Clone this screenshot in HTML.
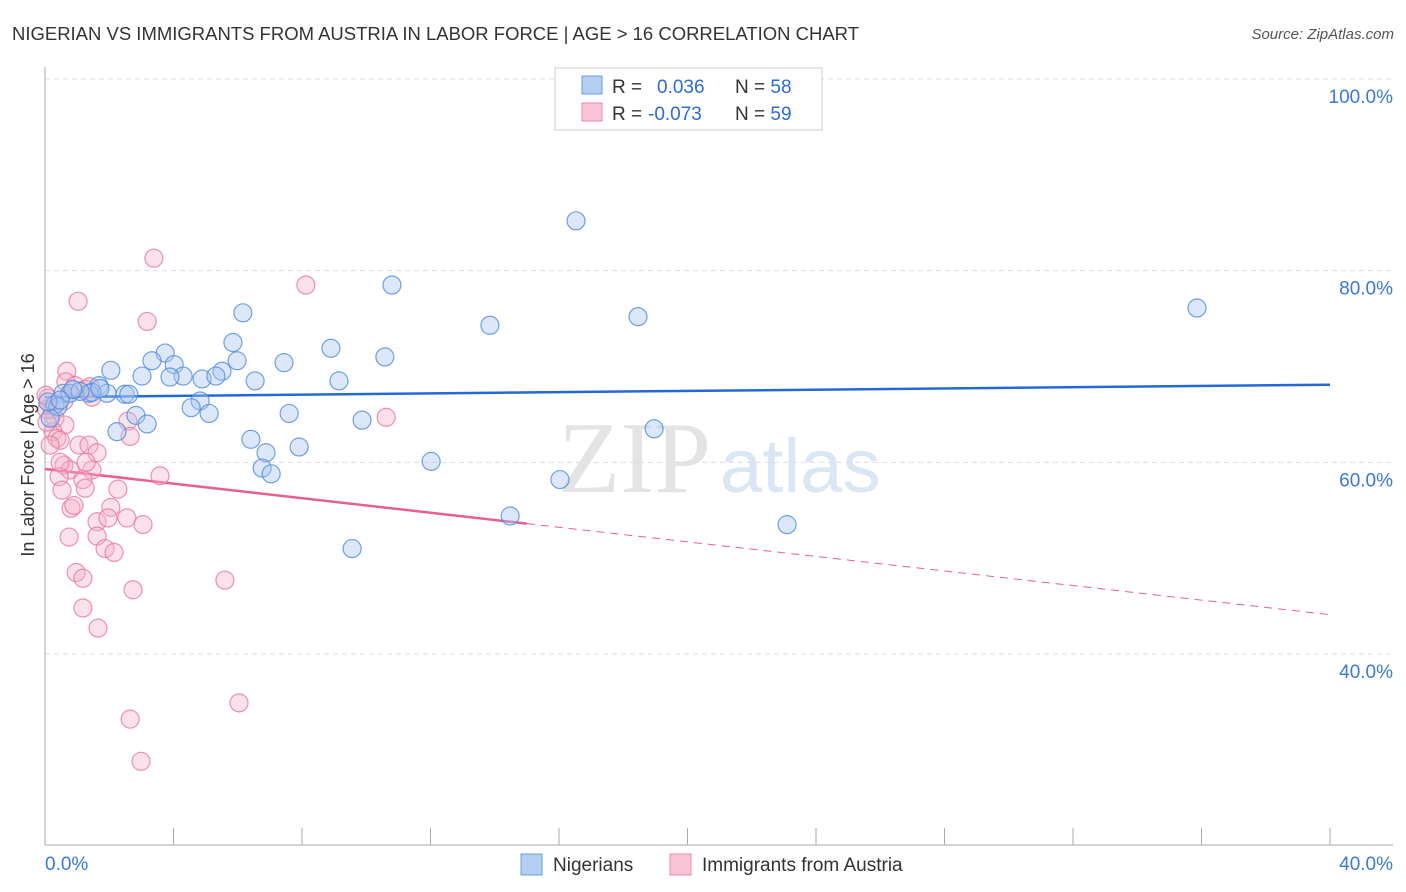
<!DOCTYPE html>
<html><head><meta charset="utf-8"><style>
body{margin:0;background:#fff;font-family:"Liberation Sans",sans-serif;}
svg{display:block}
</style></head><body>
<svg id="chart" width="1406" height="892">
<text x="12" y="40" font-size="18" fill="#333" textLength="847" lengthAdjust="spacingAndGlyphs">NIGERIAN VS IMMIGRANTS FROM AUSTRIA IN LABOR FORCE | AGE &gt; 16 CORRELATION CHART</text>
<text x="1394" y="39" font-size="15" fill="#555" font-style="italic" text-anchor="end">Source: ZipAtlas.com</text>
<text x="558" y="492" font-size="102" fill="#e4e4e4" font-family="Liberation Serif,serif">ZIP</text>
<text x="720" y="492" font-size="76" fill="#dbe6f4">atlas</text>
<g id="grid"></g><g id="axes"></g><g id="trend"></g><g id="pts"></g>
<text transform="translate(34,455) rotate(-90)" font-size="18" fill="#333" text-anchor="middle">In Labor Force | Age &gt; 16</text>
<g>
<rect x="555" y="68" width="267" height="62" fill="#fff" stroke="#ccc"/>
<rect x="582" y="76" width="20" height="18" fill="#b4cef2" stroke="#6a9ce0"/>
<rect x="582" y="103" width="20" height="18" fill="#f9c5d6" stroke="#ea8aaa"/>
<text x="612" y="93" font-size="19" fill="#333">R = <tspan fill="#2d6bd6" x="657">0.036</tspan><tspan fill="#333" x="735">N = </tspan><tspan fill="#2d6bd6">58</tspan></text>
<text x="612" y="120" font-size="19" fill="#333">R = <tspan fill="#2d6bd6" x="648">-0.073</tspan><tspan fill="#333" x="735">N = </tspan><tspan fill="#2d6bd6">59</tspan></text>
</g>
<g>
<rect x="521" y="854" width="21" height="21" fill="#b4cef2" stroke="#6a9ce0"/>
<text x="553" y="871" font-size="19" fill="#333">Nigerians</text>
<rect x="670" y="854" width="21" height="21" fill="#f9c5d6" stroke="#ea8aaa"/>
<text x="702" y="871" font-size="19" fill="#333">Immigrants from Austria</text>
</g>
</svg>
<script>
const yTicks=[100,80,60,40];
const yTickLabels=["100.0%","80.0%","60.0%","40.0%"];
const xTickLabels=["0.0%","40.0%"];
const blueX=[16.53,10.8,6.16,13.85,18.46,35.86,5.85,8.9,3.74,3.33,10.58,7.44,5.98,4.02,2.05,5.51,3.02,4.3,3.89,4.89,5.32,9.15,6.54,1.68,0.56,0.78,1.37,1.93,2.49,2.61,4.83,4.55,5.11,7.6,2.83,3.18,9.87,2.24,6.41,7.91,18.96,6.88,6.76,7.04,12.02,16.03,14.48,9.56,23.1,0.31,0.4,0.16,0.09,1.46,1.09,0.87,1.71,0.47];
const blueY=[85.2,78.5,75.6,74.3,75.2,76.1,72.5,71.9,71.4,70.6,71.0,70.4,70.6,70.2,69.6,69.5,69.0,69.0,68.9,68.7,69.0,68.5,68.5,68.0,67.2,67.2,67.2,67.2,67.1,67.1,66.4,65.7,65.1,65.1,64.9,64.0,64.4,63.2,62.4,61.6,63.5,61.0,59.4,58.8,60.1,58.2,54.4,51.0,53.5,66.0,65.8,64.6,66.3,67.3,67.4,67.6,67.7,66.5];
const pinkX=[3.39,8.12,1.03,3.18,0.68,0.65,0.93,1.4,1.25,1.46,0.09,0.22,0.31,0.62,0.25,0.37,0.47,0.16,2.58,2.65,1.06,1.37,1.62,0.59,0.78,1.46,1.28,3.58,0.44,1.18,1.25,2.27,0.53,2.05,0.81,0.9,1.62,2.55,1.96,3.05,1.62,0.75,1.87,2.15,0.97,1.18,5.6,2.74,1.18,1.65,10.62,6.04,2.65,2.99,0.06,0.06,0.03,0.59,0.47];
const pinkY=[81.3,78.5,76.8,74.7,69.5,68.4,68.0,67.9,67.6,66.8,66.7,65.5,64.6,63.9,63.2,62.5,62.3,61.8,64.3,62.7,61.8,61.8,61.0,59.7,59.2,59.2,60.0,58.6,58.5,58.2,57.3,57.2,57.1,55.3,55.2,55.5,53.8,54.2,54.2,53.5,52.3,52.2,51.0,50.6,48.5,47.9,47.7,46.7,44.8,42.7,64.7,34.9,33.2,28.8,65.5,64.2,67.0,66.4,60.0];
const blueTrend=[66.8,68.1];
const pinkTrend=[59.3,53.6,44.1];
const pinkSolidEnd=15;

const NS="http://www.w3.org/2000/svg";
const X=v=>45+v/40*1285, Y=v=>79+(100-v)*9.583;
function mk(tag,parent,attrs){const e=document.createElementNS(NS,tag);for(const k in attrs)e.setAttribute(k,attrs[k]);document.getElementById(parent).appendChild(e);return e;}
yTicks.forEach((t,i)=>{
  const l=mk('line','grid',{x1:45,x2:1393,y1:Y(t),y2:Y(t),stroke:'#ddd','stroke-dasharray':'5,4'});
  
  
  const tx=mk('text','grid',{x:1393,y:Y(t)+24,'font-size':19,fill:'#3b78d8','text-anchor':'end'});
  tx.textContent=yTickLabels[i];
  
  
});
const ax=mk('line','axes',{x1:45,x2:45,y1:67,y2:845,stroke:'#aaa'});


const bx=mk('line','axes',{x1:45,x2:1393,y1:845,y2:845,stroke:'#aaa'});


for(let i=1;i<=10;i++){
  const t=mk('line','axes',{x1:X(i*4),x2:X(i*4),y1:828,y2:845,stroke:'#aaa'});
  
  
}
[[0,'start',45],[40,'end',1393]].forEach((d,i)=>{
  const t=mk('text','axes',{x:d[2],y:870,'font-size':19,fill:'#3b78d8','text-anchor':d[1]});
  t.textContent=xTickLabels[i];
  
  
});
function dots(xs,ys,fill,stroke,name){
  xs.forEach((x,i)=>{
    const c=mk('circle','pts',{cx:X(x),cy:Y(ys[i]),r:9,fill:fill,'fill-opacity':0.4,stroke:stroke,'stroke-width':1.2,'stroke-opacity':0.8});
    
    
  });
}
dots(pinkX,pinkY,'#f6b3c9','#e8789e','austria-point');
dots(blueX,blueY,'#a8c6f0','#4f8ade','nigerian-point');
const bl=mk('line','trend',{x1:X(0),y1:Y(blueTrend[0]),x2:X(40),y2:Y(blueTrend[1]),stroke:'#2469d6','stroke-width':2.5});


const pl=mk('line','trend',{x1:X(0),y1:Y(pinkTrend[0]),x2:X(pinkSolidEnd),y2:Y(pinkTrend[1]),stroke:'#e8608f','stroke-width':2.5});


const pd=mk('line','trend',{x1:X(pinkSolidEnd),y1:Y(pinkTrend[1]),x2:X(40),y2:Y(pinkTrend[2]),stroke:'#e8608f','stroke-width':1,'stroke-dasharray':'8,6'});


</script>
</body></html>
